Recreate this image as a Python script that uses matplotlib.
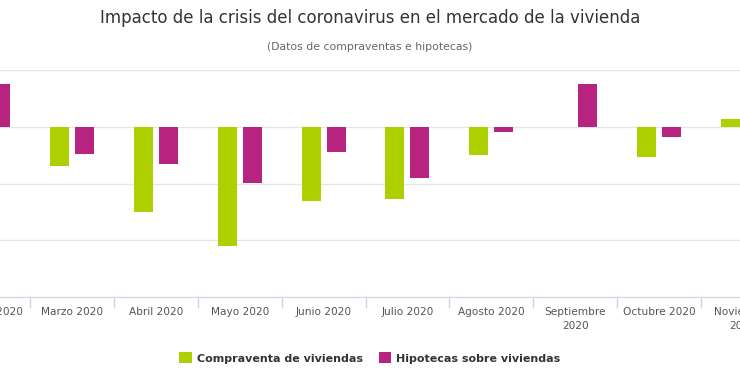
import matplotlib.pyplot as plt
import matplotlib.transforms as mtransforms
import numpy as np

meses = ['Febrero 2020', 'Marzo 2020', 'Abril 2020', 'Mayo 2020', 'Junio 2020',
         'Julio 2020', 'Agosto 2020', 'Septiembre\n2020', 'Octubre 2020', 'Noviembre\n2020']
compraventa = [8.0, -17.5, -37.7, -52.6, -32.9, -32.0, -12.3, 0.0, -13.2, 3.5]
hipotecas = [18.9, -11.8, -16.2, -24.6, -11.0, -22.4, -2.2, 18.9, -4.4, 6.0]

verde = '#aecf00'
magenta = '#b7247f'

fig = plt.figure(figsize=(7.4, 3.89), dpi=100)
ax = fig.add_axes([0, 1 - 297 / 389, 1, (297 - 70) / 389])

x = np.arange(len(meses))
w = 0.2265
off = 0.149
ax.bar(x - off, compraventa, w, color=verde, label='Compraventa de viviendas', zorder=3)
ax.bar(x + off, hipotecas, w, color=magenta, label='Hipotecas sobre viviendas', zorder=3)

ax.set_yticks([-75, -50, -25, 0, 25])
ax.yaxis.grid(True, color='#e6e6e6', linewidth=1, zorder=0)
ax.tick_params(axis='y', left=False, labelleft=False)

# category labels as text so the ones at the cut edges still show partly
ax.set_xticks([])
ax.set_xticks(x[:-1] + 0.5, minor=True)
ax.tick_params(axis='x', which='minor', length=8, color='#ccd6eb', width=1, labelbottom=False)
lab_tr = ax.get_xaxis_transform() + mtransforms.ScaledTranslation(0, -10 / 100, fig.dpi_scale_trans)
for i, m in enumerate(meses):
    ax.text(x[i], 0, m, transform=lab_tr, ha='center', va='top', fontsize=7.6,
            color='#555555', linespacing=1.45, clip_on=False)

# limits after ticks so the view is not widened
ax.set_xlim(0.142, 8.965)
ax.set_ylim(-75, 25)

for s in ['top', 'left', 'right']:
    ax.spines[s].set_visible(False)
ax.spines['bottom'].set_color('#ccd6eb')

fig.text(0.5, 1 - 18 / 389, 'Impacto de la crisis del coronavirus en el mercado de la vivienda',
         ha='center', va='center', fontsize=12, color='#333333')
fig.text(0.5, 1 - 47 / 389, '(Datos de compraventas e hipotecas)',
         ha='center', va='center', fontsize=7.8, color='#666666')

leg = fig.legend(loc='center', bbox_to_anchor=(0.5, 1 - 358 / 389), ncol=2, frameon=False,
                 handlelength=1.1, handleheight=1.1, handletextpad=0.5, columnspacing=1.4,
                 prop={'size': 8, 'weight': 'bold'})
for t in leg.get_texts():
    t.set_color('#333333')

fig.savefig('out.png', dpi=100)
